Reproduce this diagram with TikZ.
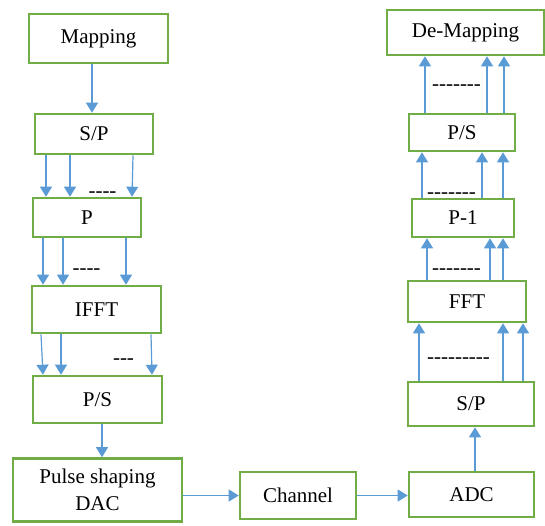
\documentclass[tikz,border=0pt]{standalone}
\usepackage{fontspec}
\setmainfont{Liberation Serif}
\usetikzlibrary{arrows.meta}
\definecolor{boxgreen}{HTML}{70AD47}
\definecolor{arrblue}{HTML}{5B9BD5}
\tikzset{
  blk/.style={draw=boxgreen, line width=2.6pt, fill=white, inner sep=0pt,
    font=\fontsize{21}{24}\selectfont, align=center},
  arr/.style={draw=arrblue, line width=1.2pt, -{Triangle[width=12pt,length=10pt]}},
  dsh/.style={inner sep=0pt, font=\fontsize{21}{24}\selectfont}
}
\begin{document}
\begin{tikzpicture}[x=1pt,y=-1pt]
\useasboundingbox (0,0) rectangle (545,525);
% left column
\node[blk, minimum width=139pt, minimum height=49pt] (map) at (98.5,38.5) {Mapping};
\node[blk, minimum width=118pt, minimum height=40pt] (sp1) at (94,134) {S/P};
\node[blk, minimum width=108pt, minimum height=39pt] (p) at (87,217.5) {P};
\node[blk, minimum width=129pt, minimum height=47pt] (ifft) at (96.5,309.5) {IFFT};
\node[blk, minimum width=129pt, minimum height=47pt] (ps1) at (97.5,399.5) {P/S};
\node[blk, minimum width=169pt, minimum height=63pt] (pulse) at (97.5,490) {Pulse shaping\\[3pt]DAC};
\node[blk, minimum width=116pt, minimum height=47pt] (chan) at (298,495.5) {Channel};
% right column
\node[blk, minimum width=125pt, minimum height=45pt] (adc) at (471.5,494.5) {ADC};
\node[blk, minimum width=126pt, minimum height=44pt] (sp2) at (471,404) {S/P};
\node[blk, minimum width=118pt, minimum height=41pt] (fft) at (467,301.5) {FFT};
\node[blk, minimum width=102pt, minimum height=38pt] (p1) at (463,218) {P-1};
\node[blk, minimum width=106pt, minimum height=37pt] (ps2) at (462,132.5) {P/S};
\node[blk, minimum width=157pt, minimum height=45pt] (demap) at (465.5,32.5) {De-Mapping};
% dash labels
\node[dsh] (d1) at (102.5,195) {-{}-{}-{}-};
\node[dsh] (d2) at (86.5,272) {-{}-{}-{}-};
\node[dsh] (d3) at (123.5,362) {-{}-{}-};
\node[dsh] (d4) at (456.5,88) {-{}-{}-{}-{}-{}-{}-};
\node[dsh] (d5) at (451.5,196) {-{}-{}-{}-{}-{}-{}-};
\node[dsh] (d6) at (456.5,272) {-{}-{}-{}-{}-{}-{}-};
\node[dsh] (d7) at (458.5,361) {-{}-{}-{}-{}-{}-{}-{}-{}-};
% left arrows
\draw[arr] ([xshift=-6.5pt]map.south) -- ([xshift=-2pt]sp1.north);
\draw[arr] ([xshift=-48pt]sp1.south) -- ([xshift=-41pt]p.north);
\draw[arr] ([xshift=-24pt]sp1.south) -- ([xshift=-17pt]p.north);
\draw[arr] ([xshift=39pt]sp1.south) -- ([xshift=45pt]p.north);
\draw[arr] ([xshift=-44pt]p.south) -- ([xshift=-53.5pt]ifft.north);
\draw[arr] ([xshift=-24pt]p.south) -- ([xshift=-33.5pt]ifft.north);
\draw[arr] ([xshift=39pt]p.south) -- ([xshift=29.5pt]ifft.north);
\draw[arr] ([xshift=-55.5pt]ifft.south) -- ([xshift=-54.5pt]ps1.north);
\draw[arr] ([xshift=-35.5pt]ifft.south) -- ([xshift=-36.5pt]ps1.north);
\draw[arr] ([xshift=54.5pt]ifft.south) -- ([xshift=54.5pt]ps1.north);
\draw[arr] ([xshift=4.5pt]ps1.south) -- ([xshift=4.5pt]pulse.north);
\draw[arr] (pulse.east |- chan.west) -- (chan.west);
\draw[arr] (chan.east) -- (adc.west |- chan.east);
% right arrows
\draw[arr] ([xshift=3.5pt]adc.north) -- ([xshift=4pt]sp2.south);
\draw[arr] ([xshift=-52pt]sp2.north) -- ([xshift=-48pt]fft.south);
\draw[arr] ([xshift=32pt]sp2.north) -- ([xshift=36pt]fft.south);
\draw[arr] ([xshift=52pt]sp2.north) -- ([xshift=56pt]fft.south);
\draw[arr] ([xshift=-40pt]fft.north) -- ([xshift=-36pt]p1.south);
\draw[arr] ([xshift=23pt]fft.north) -- ([xshift=27pt]p1.south);
\draw[arr] ([xshift=36pt]fft.north) -- ([xshift=40pt]p1.south);
\draw[arr] ([xshift=-41pt]p1.north) -- ([xshift=-40pt]ps2.south);
\draw[arr] ([xshift=19pt]p1.north) -- ([xshift=20pt]ps2.south);
\draw[arr] ([xshift=40pt]p1.north) -- ([xshift=41pt]ps2.south);
\draw[arr] ([xshift=-37pt]ps2.north) -- ([xshift=-40.5pt]demap.south);
\draw[arr] ([xshift=25pt]ps2.north) -- ([xshift=21.5pt]demap.south);
\draw[arr] ([xshift=42pt]ps2.north) -- ([xshift=38.5pt]demap.south);
\end{tikzpicture}
\end{document}
